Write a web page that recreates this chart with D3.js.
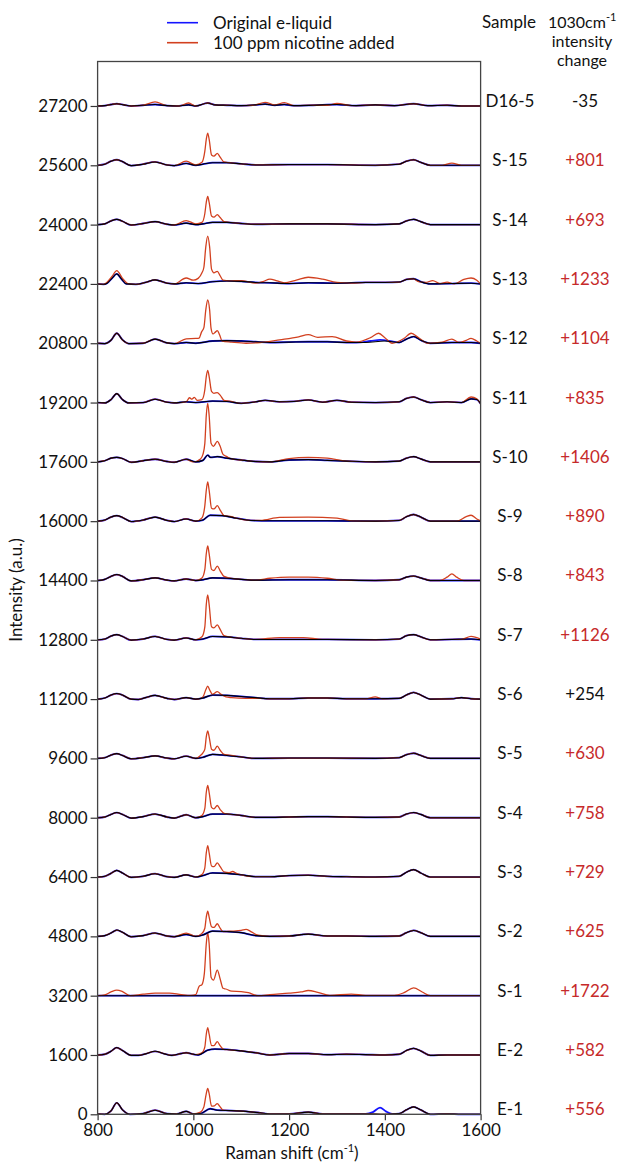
<!DOCTYPE html>
<html>
<head>
<meta charset="utf-8">
<script src="https://cdn.jsdelivr.net/npm/d3@7"></script>
<style>
    body { margin: 0; background: #fff; }
    svg { display: block; font-family: Lato, "Open Sans", sans-serif; }
</style>
</head>
<body>
<svg id="chart" width="621" height="1166"></svg>
<script>
// samples from bottom (offset 0) to top
var sampleNames = ["E-1", "E-2", "S-1", "S-2", "S-3", "S-4", "S-5", "S-6", "S-7", "S-8",
    "S-9", "S-10", "S-11", "S-12", "S-13", "S-14", "S-15", "D16-5"];
var offsets = [0, 1600, 3200, 4800, 6400, 8000, 9600, 11200, 12800, 14400,
    16000, 17600, 19200, 20800, 22400, 24000, 25600, 27200];
var changeLabels = ["+556", "+582", "+1722", "+625", "+729", "+758", "+630", "+254", "+1126", "+843",
    "+890", "+1406", "+835", "+1104", "+1233", "+693", "+801", "-35"];
var changeMarked = [1, 1, 1, 1, 1, 1, 1, 0, 1, 1, 1, 1, 1, 1, 1, 1, 1, 0];
var xTicks = [800, 1000, 1200, 1400, 1600];
var yTicks = offsets;

// common trace (drawn black), [wavenumber, intensity above the sample offset]
var baseTraces = [
    [[800,10],[815,0],[828,90],[840,310],[852,120],[868,0],[895,20],[920,110],[945,20],[965,10],[985,80],[1000,10],[1015,20],[1035,150],[1050,110],[1080,100],[1110,80],[1140,40],[1160,10],[1200,10],[1240,60],[1270,10],[1320,10],[1360,10],[1400,0],[1430,20],[1445,120],[1460,200],[1475,120],[1495,0],[1530,10],[1560,0],[1600,0]],
    [[800,0],[815,20],[828,100],[840,200],[852,120],[870,-10],[885,-10],[900,30],[920,100],[940,30],[955,-10],[975,40],[985,60],[1000,20],[1010,0],[1030,130],[1045,160],[1070,150],[1100,110],[1130,60],[1160,0],[1200,40],[1240,40],[1280,10],[1320,20],[1360,10],[1400,0],[1430,20],[1445,120],[1460,180],[1475,110],[1495,-10],[1530,0],[1600,0]],
    [[800,0],[1000,0],[1200,0],[1400,0],[1600,0]],
    [[800,0],[815,20],[828,90],[840,170],[852,110],[870,-10],[895,20],[920,90],[945,10],[960,-10],[985,50],[1005,0],[1020,40],[1040,140],[1070,130],[1100,100],[1130,20],[1160,0],[1200,10],[1240,60],[1280,10],[1320,10],[1380,0],[1430,10],[1445,100],[1460,160],[1475,100],[1495,0],[1600,0]],
    [[800,0],[815,20],[828,100],[840,180],[852,110],[870,-10],[895,20],[920,90],[945,10],[960,-10],[985,60],[1005,0],[1020,40],[1040,110],[1070,100],[1100,60],[1130,10],[1160,10],[1200,40],[1240,50],[1280,20],[1320,10],[1380,0],[1430,20],[1445,130],[1460,200],[1475,110],[1495,0],[1530,0],[1600,0]],
    [[800,0],[815,20],[828,90],[840,140],[852,90],[870,-10],[895,30],[920,100],[945,20],[960,-10],[985,80],[1005,0],[1020,30],[1040,100],[1070,100],[1100,60],[1130,10],[1160,10],[1200,20],[1240,30],[1280,30],[1320,20],[1380,10],[1430,20],[1445,100],[1460,140],[1475,90],[1495,0],[1600,0]],
    [[800,0],[815,20],[828,90],[840,130],[852,80],[870,-10],[895,20],[920,70],[945,10],[960,-10],[985,60],[1005,0],[1020,30],[1040,110],[1070,80],[1100,40],[1130,0],[1200,10],[1280,10],[1380,0],[1430,20],[1445,100],[1460,140],[1475,80],[1495,0],[1600,0]],
    [[800,0],[815,30],[828,110],[840,150],[852,110],[870,0],[885,-10],[900,40],[920,100],[945,20],[960,-10],[985,40],[1005,0],[1020,30],[1040,110],[1070,100],[1100,70],[1130,40],[1160,10],[1200,10],[1240,30],[1280,30],[1320,10],[1380,10],[1430,20],[1445,110],[1460,180],[1475,110],[1495,0],[1540,10],[1560,40],[1580,10],[1600,0]],
    [[800,0],[815,20],[828,100],[840,140],[852,90],[870,-10],[895,20],[920,90],[945,10],[960,-10],[985,50],[1005,0],[1020,20],[1040,90],[1070,80],[1100,40],[1130,10],[1200,10],[1280,10],[1380,0],[1430,20],[1445,110],[1460,140],[1475,80],[1495,0],[1540,10],[1580,20],[1600,0]],
    [[800,0],[815,30],[828,110],[840,160],[852,110],[870,-10],[895,20],[920,70],[945,10],[960,-10],[985,40],[1005,0],[1020,20],[1040,70],[1070,60],[1100,30],[1130,10],[1200,20],[1280,20],[1380,0],[1430,20],[1445,90],[1460,120],[1475,70],[1495,0],[1600,0]],
    [[800,0],[815,30],[828,110],[840,150],[852,100],[870,-10],[895,30],[920,110],[945,20],[960,-10],[985,60],[1005,0],[1020,30],[1035,160],[1060,150],[1090,80],[1120,20],[1160,10],[1200,10],[1280,10],[1380,0],[1430,20],[1445,120],[1460,180],[1475,110],[1495,0],[1600,0]],
    [[800,0],[815,30],[828,100],[840,120],[852,90],[870,-10],[895,30],[920,70],[945,10],[960,-10],[985,70],[1005,0],[1020,40],[1030,180],[1036,120],[1050,140],[1070,100],[1100,50],[1130,10],[1160,0],[1200,50],[1240,60],[1280,40],[1320,20],[1380,0],[1430,20],[1445,100],[1460,140],[1475,80],[1495,0],[1600,0]],
    [[800,0],[815,-10],[828,80],[840,240],[852,80],[865,-10],[895,0],[920,90],[945,10],[960,-10],[985,20],[1005,0],[1040,40],[1070,30],[1100,-20],[1130,20],[1150,60],[1180,20],[1210,30],[1240,70],[1270,10],[1300,60],[1330,10],[1380,0],[1430,20],[1445,110],[1460,150],[1475,80],[1495,0],[1530,20],[1560,0],[1580,100],[1592,80],[1600,-30]],
    [[800,0],[815,-10],[828,80],[840,270],[852,90],[865,-10],[895,0],[920,110],[945,10],[960,-10],[985,20],[1005,0],[1040,60],[1070,70],[1100,60],[1130,40],[1160,20],[1200,30],[1240,40],[1280,40],[1320,20],[1360,20],[1400,60],[1430,20],[1445,110],[1460,180],[1475,80],[1495,0],[1540,20],[1580,20],[1600,0]],
    [[800,0],[812,-10],[820,20],[830,150],[840,270],[850,130],[860,0],[880,-10],[900,40],[920,110],[945,20],[960,0],[985,30],[1010,10],[1040,60],[1070,80],[1100,70],[1130,40],[1160,30],[1200,10],[1240,30],[1300,20],[1360,40],[1400,40],[1430,50],[1445,120],[1460,140],[1475,60],[1495,0],[1540,10],[1580,20],[1600,0]],
    [[800,0],[815,20],[828,100],[840,140],[852,90],[870,-10],[895,30],[920,80],[945,10],[960,-10],[985,40],[1005,0],[1020,20],[1040,60],[1070,60],[1100,30],[1130,10],[1200,20],[1280,20],[1380,0],[1430,20],[1445,100],[1460,140],[1475,80],[1495,0],[1600,0]],
    [[800,0],[815,30],[828,110],[840,150],[852,100],[870,-10],[895,30],[920,90],[945,10],[960,-10],[985,50],[1005,0],[1020,30],[1040,70],[1070,70],[1100,40],[1130,10],[1200,20],[1280,20],[1380,0],[1430,30],[1445,110],[1460,150],[1475,80],[1495,0],[1600,0]],
    [[800,0],[815,10],[828,40],[840,60],[855,30],[870,0],[895,20],[920,40],[945,10],[965,0],[990,30],[1005,0],[1030,80],[1045,30],[1070,20],[1100,10],[1130,30],[1150,50],[1170,20],[1190,40],[1210,10],[1250,20],[1300,40],[1340,10],[1380,30],[1420,10],[1460,60],[1490,10],[1530,20],[1560,0],[1600,0]]
];

// stretches where the original e-liquid (blue) leaves the common trace
var blueSegs = [
    [[[1360,10],[1375,60],[1390,180],[1402,80],[1415,10]]],
    [], [], [], [], [], [], [], [], [], [], [], [],
    [[[1340,20],[1370,60],[1390,90],[1415,50],[1430,20]]],
    [], [], [], []
];

// stretches where the nicotine-added spectrum (red) leaves the common trace
var redSegs = [
    [[[1000,10],[1015,60],[1022,200],[1027,560],[1030,700],[1033,560],[1038,220],[1044,230],[1050,290],[1056,200],[1062,110],[1075,100]]],
    [[[1005,10],[1018,60],[1024,220],[1027,560],[1030,740],[1033,560],[1038,250],[1043,250],[1050,360],[1056,250],[1063,150],[1075,140]]],
    [[[800,0],[815,20],[828,100],[840,150],[852,110],[868,0],[895,40],[920,70],[950,70],[975,30],[995,10],[1005,30],[1012,250],[1018,300],[1023,600],[1027,1400],[1030,1700],[1033,1400],[1037,500],[1042,420],[1050,690],[1056,450],[1062,200],[1068,180],[1080,120],[1100,110],[1115,80],[1135,0],[1160,30],[1200,70],[1225,100],[1240,140],[1260,90],[1285,10],[1330,40],[1360,10],[1420,10],[1440,80],[1460,210],[1478,100],[1495,0],[1600,0]]],
    [[[960,-10],[985,90],[1005,0],[1018,80],[1024,220],[1027,520],[1030,680],[1033,520],[1038,260],[1043,240],[1050,340],[1056,220],[1062,130],[1080,140],[1100,160],[1110,190],[1120,130],[1135,30]]],
    [[[1005,0],[1018,70],[1024,250],[1027,650],[1030,850],[1033,650],[1038,300],[1043,280],[1050,380],[1056,280],[1064,140],[1075,120],[1082,150],[1090,100]]],
    [[[1005,0],[1018,60],[1024,250],[1027,680],[1030,870],[1033,680],[1038,280],[1043,240],[1050,330],[1056,220],[1064,120],[1075,100]]],
    [[[1005,0],[1015,80],[1020,150],[1024,250],[1027,580],[1030,740],[1033,580],[1038,250],[1043,220],[1050,330],[1056,220],[1064,110],[1075,90]]],
    [[[1010,0],[1020,60],[1026,250],[1030,350],[1034,250],[1040,130],[1050,200],[1058,130],[1068,60],[1080,40],[1110,20],[1140,20]],
     [[1360,10],[1380,60],[1395,10]]],
    [[[1005,0],[1018,80],[1024,350],[1027,950],[1030,1210],[1033,950],[1038,350],[1043,320],[1050,400],[1056,280],[1064,110],[1075,80]],
     [[1130,10],[1180,60],[1230,60],[1270,10]],
     [[1560,10],[1580,90],[1600,20]]],
    [[[1005,0],[1018,70],[1024,300],[1027,720],[1030,930],[1033,720],[1038,300],[1043,270],[1050,390],[1056,260],[1064,110],[1075,70]],
     [[1130,10],[1160,60],[1200,90],[1240,90],[1280,60],[1310,10]],
     [[1515,0],[1530,90],[1540,180],[1550,90],[1565,0]]],
    [[[1005,0],[1018,90],[1024,420],[1027,830],[1030,1060],[1033,830],[1038,350],[1043,330],[1050,420],[1056,300],[1064,150],[1080,120]],
     [[1140,20],[1180,100],[1240,110],[1300,80],[1330,10]],
     [[1550,0],[1570,120],[1580,160],[1592,60],[1600,10]]],
    [[[1000,0],[1015,80],[1020,200],[1024,500],[1027,1250],[1030,1580],[1033,1250],[1037,500],[1042,420],[1050,550],[1056,420],[1062,200],[1070,140],[1080,80]],
     [[1160,0],[1200,90],[1240,120],[1280,100],[1320,20]]],
    [[[985,20],[992,130],[997,90],[1002,140],[1008,60],[1018,80],[1024,350],[1027,700],[1030,870],[1033,700],[1038,300],[1043,250],[1050,270],[1056,200],[1064,60],[1075,40]],
     [[1560,0],[1580,150],[1592,100],[1600,-30]]],
    [[[960,-10],[985,120],[1005,130],[1012,140],[1017,300],[1022,420],[1026,900],[1030,1170],[1034,900],[1037,400],[1041,250],[1046,300],[1050,340],[1055,220],[1060,60],[1080,30],[1110,0],[1140,20],[1180,90],[1220,170],[1240,230],[1260,160],[1290,180],[1320,60],[1340,30],[1370,150],[1387,270],[1400,150],[1415,0],[1440,130],[1455,270],[1470,150],[1490,0],[1520,30],[1540,110],[1555,20],[1570,80],[1580,130],[1592,60],[1600,0]]],
    [[[815,0],[830,200],[840,360],[852,150],[865,0]],
     [[960,0],[985,160],[1000,100],[1010,150],[1018,300],[1022,450],[1026,1000],[1030,1290],[1034,1000],[1038,400],[1043,300],[1050,340],[1056,220],[1062,100],[1075,80],[1100,90],[1130,20],[1145,60],[1160,130],[1175,80],[1190,30],[1215,100],[1240,180],[1270,130],[1300,40],[1330,20]],
     [[1470,60],[1485,40],[1500,90],[1515,10],[1530,50],[1545,0],[1565,120],[1580,160],[1592,100],[1600,0]]],
    [[[960,-10],[985,110],[1005,20],[1018,60],[1024,300],[1027,600],[1030,760],[1033,600],[1038,230],[1043,200],[1050,270],[1056,190],[1064,80],[1075,60]]],
    [[[960,-10],[985,110],[1005,10],[1018,80],[1024,380],[1027,700],[1030,870],[1033,700],[1038,280],[1043,250],[1050,320],[1056,220],[1064,90],[1075,70]],
     [[1520,0],[1540,60],[1560,0]]],
    [[[895,20],[920,110],[945,10]],
     [[970,0],[990,80],[1005,0]],
     [[1125,20],[1150,100],[1170,30],[1190,90],[1210,10]],
     [[1280,20],[1300,70],[1330,10]]]
];

var BLUE = "#1414ff", RED = "#d2401f", TXTRED = "#c62a2a";
var FS = 17, HFS = 16;

var svg = d3.select("#chart");
var x = d3.scaleLinear().domain([800, 1600]).range([97.6, 480.6]);
var y = d3.scaleLinear().domain([0, 28400]).range([1114.3, 61.5]);

// replace parts of the common trace by the given stretches
function withSegs(base, segs) {
    var pts = base.slice();
    segs.forEach(function(seg) {
        var lo = seg[0][0], hi = seg[seg.length - 1][0];
        pts = pts.filter(function(p) { return p[0] < lo || p[0] > hi; }).concat(seg);
    });
    return pts.sort(function(a, b) { return a[0] - b[0]; });
}

svg.append("clipPath").attr("id", "plotClip")
    .append("rect").attr("x", x(800)).attr("y", y(28400))
    .attr("width", x(1600) - x(800)).attr("height", y(0) - y(28400) + 3);

var plot = svg.append("g").attr("clip-path", "url(#plotClip)");

sampleNames.forEach(function(name, i) {
    var off = offsets[i];
    var line = d3.line()
        .curve(d3.curveMonotoneX)
        .x(function(d) { return x(d[0]); })
        .y(function(d) { return y(off + d[1]); });
    var g = plot.append("g").attr("class", "trace").attr("id", "trace" + i);
    g.append("path").attr("d", line(withSegs(baseTraces[i], blueSegs[i])))
        .attr("fill", "none").attr("stroke", BLUE).attr("stroke-width", 1.8);
    g.append("path").attr("d", line(withSegs(baseTraces[i], redSegs[i])))
        .attr("fill", "none").attr("stroke", RED).attr("stroke-width", 1.3);
    g.append("path").attr("d", line(baseTraces[i]))
        .attr("fill", "none").attr("stroke", "#000").attr("stroke-width", 1.1);
});

// axes and frame
var yAxis = d3.axisLeft(y).tickValues(yTicks).tickSize(7).tickPadding(3).tickFormat(d3.format("d"));
var xAxis = d3.axisBottom(x).tickValues(xTicks).tickSize(6).tickPadding(4).tickFormat(d3.format("d"));

var ya = svg.append("g").attr("transform", "translate(" + x(800) + ",0)").call(yAxis);
var xa = svg.append("g").attr("transform", "translate(0," + y(0) + ")").call(xAxis);
[ya, xa].forEach(function(a) {
    a.select(".domain").remove();
    a.selectAll("line").attr("stroke", "#333").attr("stroke-width", 1.2);
    a.selectAll("text").attr("font-size", FS).attr("fill", "#111").attr("font-family", "Lato, sans-serif");
});

svg.append("rect")
    .attr("x", x(800)).attr("y", y(28400))
    .attr("width", x(1600) - x(800)).attr("height", y(0) - y(28400))
    .attr("fill", "none").attr("stroke", "#444").attr("stroke-width", 1.3);

// axis titles
svg.append("text")
    .attr("transform", "translate(22,590) rotate(-90)")
    .attr("text-anchor", "middle").attr("font-size", FS).attr("fill", "#111")
    .text("Intensity (a.u.)");

var xt = svg.append("text")
    .attr("x", 292).attr("y", 1159)
    .attr("text-anchor", "middle").attr("font-size", FS).attr("fill", "#111");
xt.append("tspan").text("Raman shift (cm");
xt.append("tspan").attr("font-size", 11).attr("dy", -7).text("-1");
xt.append("tspan").attr("dy", 7).text(")");

// legend
var legendItems = [["Original e-liquid", BLUE, 22.7], ["100 ppm nicotine added", RED, 42.7]];
legendItems.forEach(function(it) {
    svg.append("line").attr("x1", 167).attr("x2", 198).attr("y1", it[2]).attr("y2", it[2])
        .attr("stroke", it[1]).attr("stroke-width", 1.6);
    svg.append("text").attr("x", 213).attr("y", it[2] + 6)
        .attr("font-size", FS).attr("fill", "#111").text(it[0]);
});

// right-hand columns
svg.append("text").attr("x", 509).attr("y", 28).attr("text-anchor", "middle")
    .attr("font-size", FS).attr("fill", "#111").text("Sample");
var h = svg.append("text").attr("x", 548).attr("y", 28).attr("font-size", HFS).attr("fill", "#111");
h.append("tspan").text("1030cm");
h.append("tspan").attr("font-size", 11).attr("dy", -7).text("-1");
svg.append("text").attr("x", 582).attr("y", 47).attr("text-anchor", "middle")
    .attr("font-size", HFS).attr("fill", "#111").text("intensity");
svg.append("text").attr("x", 582).attr("y", 66).attr("text-anchor", "middle")
    .attr("font-size", HFS).attr("fill", "#111").text("change");

sampleNames.forEach(function(name, i) {
    var yy = y(offsets[i]) + 1;
    svg.append("text").attr("x", 510).attr("y", yy).attr("text-anchor", "middle")
        .attr("font-size", FS).attr("fill", "#111").text(name);
    svg.append("text").attr("x", 585).attr("y", yy).attr("text-anchor", "middle")
        .attr("font-size", FS).attr("fill", changeMarked[i] ? TXTRED : "#111").text(changeLabels[i]);
});
</script>
</body>
</html>
